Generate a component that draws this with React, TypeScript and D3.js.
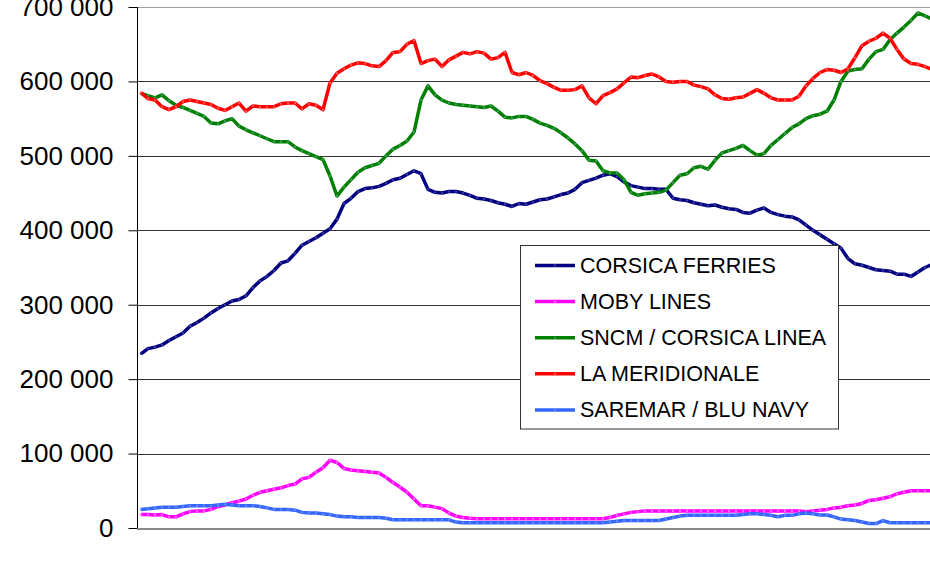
import { useEffect, useRef } from 'react';
import * as d3 from 'd3';

// values in thousands of passengers, one per period (rolling totals)
const corsicaFerries = [
  234, 241, 243, 246, 252, 257, 262, 271, 276, 282,
  289, 295, 300, 305, 307, 312, 323, 332, 338, 346,
  356, 359, 369, 380, 385, 390, 396, 402, 415, 436,
  443, 452, 456, 457, 459, 463, 468, 470, 475, 480,
  476, 455, 451, 450, 452, 452, 450, 447, 443, 442,
  440, 437, 435, 432, 436, 435, 438, 441, 442, 445,
  448, 450, 455, 464, 467, 470, 474, 476, 472, 465,
  460, 458, 456, 456, 455, 455, 443, 441, 440, 437,
  435, 433, 434, 431, 429, 428, 424, 423, 427, 430,
  424, 421, 419, 418, 414, 407, 400, 394, 388, 382,
  376, 362, 355, 353, 350, 347, 346, 345, 341, 341,
  338, 344, 350, 354,
];
const mobyLines = [
  18, 18, 17.5, 18, 15, 15, 19, 22, 23, 23,
  25, 29, 31, 34, 36, 39, 44, 48, 50, 52,
  54, 57, 59, 66, 68, 75, 81, 91, 88, 80,
  78, 77, 76, 75, 74, 68, 61, 55, 48, 39,
  30, 30, 28, 26, 20, 16, 14, 13, 12.5, 12.5,
  12.5, 12.5, 12.5, 12.5, 12.5, 12.5, 12.5, 12.5, 12.5, 12.5,
  12.5, 12.5, 12.5, 12.5, 12.5, 12.5, 12.5, 14, 17, 19,
  21, 22, 23, 23, 23, 23, 23, 23, 23, 23,
  23, 23, 23, 23, 23, 23, 23, 23, 23, 23,
  23, 23, 23, 23, 23, 22, 23, 24, 25, 27,
  28, 30, 31, 33, 37, 38, 40, 42, 46, 48,
  50, 50, 50, 50,
];
const sncm = [
  584, 581, 578, 582, 574, 568, 565, 561, 557, 553,
  544, 543, 547, 550, 540, 535, 531, 527, 523, 519,
  519, 519, 512, 507, 503, 499, 495, 473, 446, 458,
  468, 478, 484, 487, 490, 500, 509, 514, 520, 532,
  575, 594, 582, 575, 571, 569, 568, 567, 566, 565,
  567, 560, 552, 551, 553, 553, 549, 544, 541, 537,
  531, 524, 516, 507, 494, 493, 480, 477, 477, 468,
  451, 447, 449, 450, 451, 454, 464, 474, 476, 484,
  486, 482, 494, 504, 507, 510, 514, 507, 501, 503,
  514, 522, 530, 538, 543, 550, 554, 556, 560, 575,
  600, 614, 616, 617, 630, 640, 643, 656, 665, 673,
  682, 692, 688, 684,
];
const laMeridionale = [
  585, 577, 575, 566, 562, 566, 573, 575, 573, 571,
  569, 564, 561, 566, 571, 560, 567, 566, 566, 566,
  570, 571, 571, 563, 570, 568, 562, 598, 611, 617,
  622, 625, 624, 621, 620, 628, 639, 640, 650, 655,
  624, 628, 630, 620, 629, 634, 639, 637, 640, 638,
  630, 632, 639, 612, 609, 612, 608, 601, 597, 592,
  588, 588, 589, 594, 578, 570, 581, 585, 590, 598,
  606, 605, 608, 610, 606, 600, 599, 600, 600, 595,
  593, 590, 582, 577, 576, 578, 579, 584, 589, 584,
  578, 575, 575, 575, 580, 594, 604, 612, 616, 615,
  612, 617, 632, 648, 654, 658, 665, 658, 643, 630,
  624, 623, 620, 616,
];
const saremar = [
  25, 26, 27, 28, 28, 28, 29, 30, 30, 30,
  30, 31, 32, 31, 30, 30, 30, 29, 27, 25,
  25, 25, 24, 21, 20, 20, 19, 18, 16, 15,
  15, 14, 14, 14, 14, 13, 11, 11, 11, 11,
  11, 11, 11, 11, 11, 8, 7, 7, 7, 7,
  7, 7, 7, 7, 7, 7, 7, 7, 7, 7,
  7, 7, 7, 7, 7, 7, 7, 8, 9, 10,
  10, 10, 10, 10, 10, 12, 14, 16, 17, 17,
  17, 17, 17, 17, 17, 17, 18, 19, 19, 18,
  17, 15, 17, 17, 19, 20, 19, 17.5, 17.5, 15,
  12, 11, 10, 8, 6, 6, 10, 7, 7, 7,
  7, 7, 7, 7,
];

const seriesNames = ['CORSICA FERRIES', 'MOBY LINES', 'SNCM / CORSICA LINEA', 'LA MERIDIONALE', 'SAREMAR / BLU NAVY'];
const seriesValues = [corsicaFerries, mobyLines, sncm, laMeridionale, saremar];
const seriesColors = ['#000080', '#ff00ff', '#008000', '#ff0000', '#3366ff'];
const markerColors = ['#3a3a9a', '#ff66ff', '#3c9a5c', '#ff5050', '#6688ff'];
const yTicks = [0, 100000, 200000, 300000, 400000, 500000, 600000, 700000];

const App = () => {
  const ref = useRef<SVGSVGElement>(null);

  useEffect(() => {
    const width = 930;
    const height = 565;
    const plotLeft = 137;
    const plotRight = 930;
    const n = corsicaFerries.length;

    const svg = d3.select(ref.current);
    svg.selectAll('*').remove();

    // x: one category per period, 7px apart
    const x = d3.scaleLinear().domain([0, n - 1]).range([141, 141 + (n - 1) * 7]);
    const y = d3.scaleLinear().domain([0, 700000]).range([528, 7]);

    const fmt = d3.formatLocale({ decimal: ',', thousands: ' ', grouping: [3], currency: ['', ''] }).format(',d');

    svg.attr('width', width).attr('height', height)
      .style('font-family', '"Liberation Sans", Arial, sans-serif');

    // gridlines
    svg.append('g')
      .selectAll('line')
      .data(yTicks.filter((t) => t > 0))
      .enter()
      .append('line')
      .attr('x1', plotLeft)
      .attr('x2', plotRight)
      .attr('y1', (d) => Math.round(y(d)) + 0.5)
      .attr('y2', (d) => Math.round(y(d)) + 0.5)
      .attr('stroke', (d) => (d === 700000 ? '#a0a0a0' : '#333'))
      .attr('stroke-width', 1);

    // y axis
    const yAxis = svg.append('g')
      .attr('transform', `translate(${plotLeft + 0.5},0)`)
      .call(d3.axisLeft(y).tickValues(yTicks).tickSize(9).tickPadding(15).tickFormat((d) => fmt(d as number)));
    yAxis.select('.domain').attr('stroke', '#000').attr('d', `M0,${y(700000)}V${y(0)}`);
    yAxis.selectAll('.tick line').attr('stroke', '#000');
    yAxis.selectAll('.tick text')
      .attr('fill', '#000')
      .style('font-size', '26px')
      .style('font-family', '"Liberation Sans", Arial, sans-serif');

    // x axis line
    svg.append('line')
      .attr('x1', plotLeft)
      .attr('x2', plotRight)
      .attr('y1', y(0) + 1)
      .attr('y2', y(0) + 1)
      .attr('stroke', '#888')
      .attr('stroke-width', 2);

    const line = d3.line<number>()
      .x((_, i) => x(i))
      .y((d) => y(d * 1000));

    seriesValues.forEach((vals, s) => {
      svg.append('path')
        .datum(vals)
        .attr('d', line)
        .attr('fill', 'none')
        .attr('stroke', seriesColors[s])
        .attr('stroke-width', 3.5)
        .attr('stroke-linejoin', 'round');
      svg.append('g')
        .selectAll('circle')
        .data(vals)
        .enter()
        .append('circle')
        .attr('cx', (_, i) => x(i))
        .attr('cy', (d) => y(d * 1000))
        .attr('r', 1.2)
        .attr('fill', markerColors[s]);
    });

    // legend
    const legend = svg.append('g');
    legend.append('rect')
      .attr('x', 520.5)
      .attr('y', 245.5)
      .attr('width', 318)
      .attr('height', 183.5)
      .attr('fill', '#fff')
      .attr('stroke', '#333')
      .attr('stroke-width', 1);
    seriesNames.forEach((name, s) => {
      const ly = 265.5 + s * 36.1;
      legend.append('line')
        .attr('x1', 535)
        .attr('x2', 575)
        .attr('y1', ly)
        .attr('y2', ly)
        .attr('stroke', seriesColors[s])
        .attr('stroke-width', 3.5);
      legend.append('circle')
        .attr('cx', 555)
        .attr('cy', ly)
        .attr('r', 1.2)
        .attr('fill', markerColors[s]);
      legend.append('text')
        .attr('x', 580)
        .attr('y', ly + 7.5)
        .style('font-size', '21.5px')
        .attr('fill', '#000')
        .text(name);
    });
  }, []);

  return (
    <svg ref={ref} style={{ position: 'absolute', left: 0, top: 0 }}></svg>
  );
};

export default App;
